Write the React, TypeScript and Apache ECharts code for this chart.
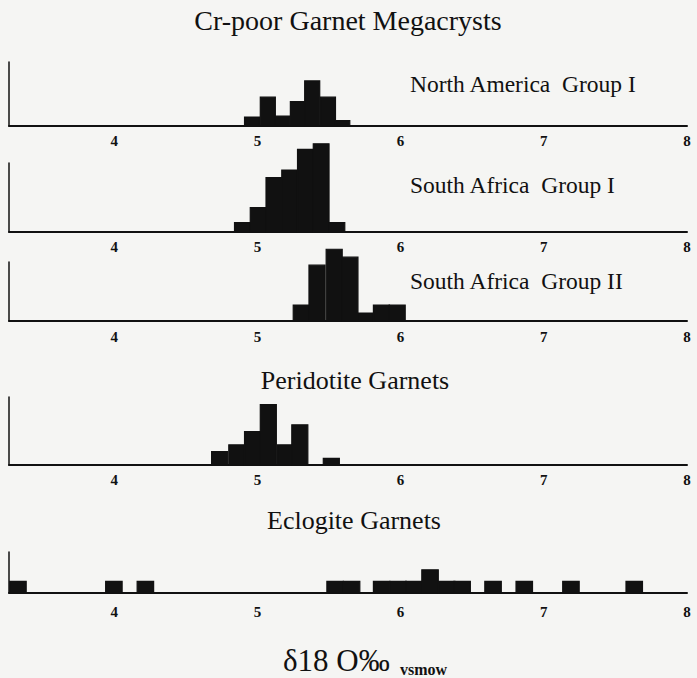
import React, { useEffect, useRef } from 'react';
import * as echarts from 'echarts';

// ---- data (δ18O ‰ VSMOW histograms) ----
const xTickValues = [4, 5, 6, 7, 8];
const X_MIN = 3.265;
const X_MAX = 8;

// North America Group I (Cr-poor megacrysts)
const naBinWidth = 0.105;
const naBinStarts = [4.91, 5.02, 5.12, 5.23, 5.33, 5.44, 5.54];
const naCounts = [1, 3.2, 1.1, 2.7, 5, 3.2, 0.6];

// South Africa Group I
const saIBinWidth = 0.11;
const saIBinStarts = [4.84, 4.95, 5.06, 5.17, 5.28, 5.39, 5.5];
const saICounts = [1, 2.6, 5.8, 6.6, 8.8, 9.4, 1];

// South Africa Group II
const saIIBinWidth = 0.112;
const saIIBinStarts = [5.25, 5.36, 5.48, 5.59, 5.7, 5.81, 5.92];
const saIICounts = [2, 7, 9, 8, 1, 2, 2];

// Peridotite garnets
const periBinWidth = 0.112;
const periBinStarts = [4.68, 4.8, 4.91, 5.02, 5.14, 5.24, 5.36, 5.46];
const periCounts = [2, 3, 5, 9, 3, 6, 0, 1];

// Eclogite garnets
const ecloBinWidth = 0.115;
const ecloBinStarts = [3.27, 3.94, 4.16, 5.485, 5.6, 5.81, 5.925, 6.035, 6.148, 6.264, 6.372, 6.588, 6.806, 7.132, 7.574];
const ecloCounts = [1, 1, 1, 1, 1, 1, 1, 1, 2, 1, 1, 1, 1, 1, 1];

type Panel = {
  label: string | null;
  starts: number[];
  counts: number[];
  width: number;
  yMax: number;
  top: number;
  height: number;
  labelMargin: number;
};

const panels: Panel[] = [
  { label: 'North America  Group I', starts: naBinStarts, counts: naCounts, width: naBinWidth, yMax: 7.1, top: 62, height: 64, labelMargin: 7 },
  { label: 'South Africa  Group I', starts: saIBinStarts, counts: saICounts, width: saIBinWidth, yMax: 7.35, top: 163, height: 69, labelMargin: 7 },
  { label: 'South Africa  Group II', starts: saIIBinStarts, counts: saIICounts, width: saIIBinWidth, yMax: 7.4, top: 262, height: 59, labelMargin: 8 },
  { label: null, starts: periBinStarts, counts: periCounts, width: periBinWidth, yMax: 10.15, top: 397, height: 68, labelMargin: 7 },
  { label: null, starts: ecloBinStarts, counts: ecloCounts, width: ecloBinWidth, yMax: 3.53, top: 552, height: 41, labelMargin: 11 },
];

const SERIF = '"Liberation Serif", "Times New Roman", serif';
const INK = '#111111';

export default function App() {
  const ref = useRef<HTMLDivElement>(null);

  useEffect(() => {
    if (!ref.current) return;
    const chart = echarts.init(ref.current, undefined, { renderer: 'svg' });

    const grids = panels.map((p) => ({ left: 9, right: 10, top: p.top, height: p.height, containLabel: false }));
    const xAxes = panels.map((p, i) => ({
      type: 'value',
      gridIndex: i,
      min: X_MIN,
      max: X_MAX,
      axisLine: { show: true, lineStyle: { color: INK, width: 2 } },
      axisTick: { show: false },
      splitLine: { show: false },
      axisLabel: {
        show: true,
        customValues: xTickValues,
        margin: p.labelMargin,
        fontFamily: SERIF,
        fontWeight: 'bold',
        fontSize: 15,
        color: INK,
        showMinLabel: true,
        showMaxLabel: true,
        formatter: (v: number) => String(v),
      },
    }));
    const yAxes = panels.map((p, i) => ({
      type: 'value',
      gridIndex: i,
      min: 0,
      max: p.yMax,
      axisLine: { show: true, onZero: false, lineStyle: { color: INK, width: 1.5 } },
      axisTick: { show: false },
      splitLine: { show: false },
      axisLabel: { show: false },
    }));
    const series = panels.map((p, i) => ({
      type: 'custom',
      xAxisIndex: i,
      yAxisIndex: i,
      clip: false,
      encode: { x: [0, 1], y: 2 },
      data: p.starts.map((s, k) => [s, s + p.width, p.counts[k]]),
      renderItem: (params: any, api: any) => {
        const c = api.value(2);
        if (!c) return null;
        const p0 = api.coord([api.value(0), c]);
        const p1 = api.coord([api.value(1), 0]);
        return {
          type: 'rect',
          shape: { x: p0[0], y: p0[1], width: p1[0] - p0[0], height: p1[1] - p0[1] },
          style: { fill: INK, stroke: INK, lineWidth: 1.2 },
        };
      },
    }));

    const txt = (text: string, x: number, y: number, size: number, align: string = 'center', weight: string = 'normal') => ({
      type: 'text',
      x,
      y,
      style: { text, fill: INK, font: `${weight} ${size}px ${SERIF}`, textAlign: align, textVerticalAlign: 'middle' },
    });

    const graphics: any[] = [
      txt('Cr-poor Garnet Megacrysts', 348, 20, 28),
      txt('Peridotite Garnets', 355, 380, 26),
      txt('Eclogite Garnets', 354, 520, 26),
      txt('δ18 O‰', 283, 660, 31, 'left'),
      txt('vsmow', 400, 669, 16, 'left', 'bold'),
    ];
    const labelY = [84, 185, 281];
    panels.forEach((p, i) => {
      if (p.label) graphics.push(txt(p.label, 410, labelY[i], 23.5, 'left'));
    });

    chart.setOption({
      animation: false,
      backgroundColor: '#f5f5f3',
      grid: grids,
      xAxis: xAxes,
      yAxis: yAxes,
      series,
      graphic: graphics,
    } as any);

    return () => chart.dispose();
  }, []);

  return <div ref={ref} style={{ position: 'fixed', left: 0, top: 0, width: 697, height: 678 }} />;
}
